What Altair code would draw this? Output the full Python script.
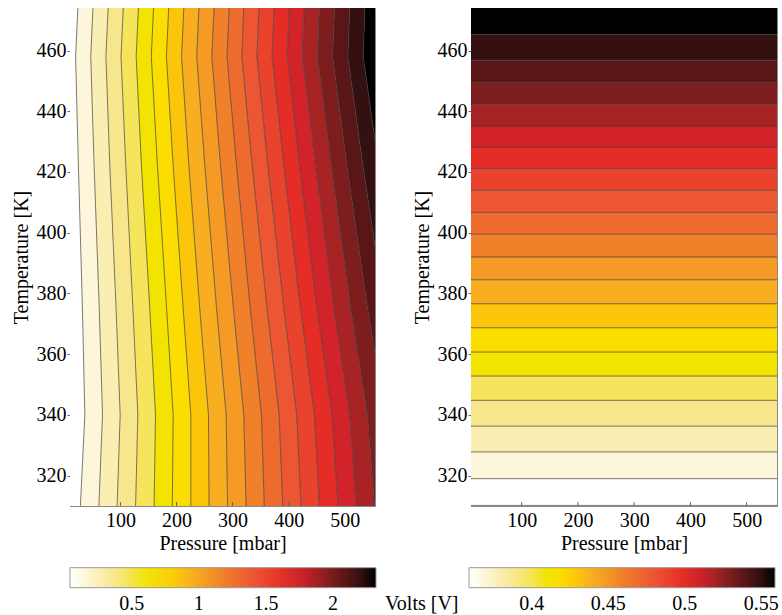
import altair as alt
import pandas as pd

FONT = "Liberation Serif"

# ---------------- data ----------------
P_range = [10, 554]          # pressure axis extent [mbar]
T_range = [310, 474]         # temperature axis extent [K]
x_ticks = [100, 200, 300, 400, 500]
y_ticks = [320, 340, 360, 380, 400, 420, 440, 460]

# Left panel: pressure where each of the 20 contour lines crosses a given temperature
left_T_rows = [474, 458, 422, 376, 340, 310]
left_P_474 = [24, 51, 78, 105, 132, 159, 186, 213, 240, 267, 294, 320, 347, 374, 401, 428, 455, 482, 509, 536]
left_P_458 = [20, 47, 74, 101, 128, 155, 182, 209, 236, 263, 290, 316.5, 343.5, 370.5, 397.5, 424.5, 451.5, 478.5, 505.5, 533]
left_P_422 = [25, 53, 81, 109.5, 137.5, 166, 194, 222, 250.5, 278.5, 307, 335, 363, 391.5, 419.5, 448, 476, 504, 532.5, 560.5]
left_P_376 = [32, 62, 92, 122, 152, 182, 211.5, 241, 271, 301, 331, 361, 391, 420.5, 450, 480, 510, 540, 570, 600]
left_P_340 = [36.5, 68, 99.5, 131, 162.5, 194, 225.5, 257, 288.5, 320, 351.5, 383, 414.5, 446, 477.5, 509, 540.5, 572, 603.5, 635]
left_P_310 = [28.5, 61.5, 94, 127, 160, 192.5, 225.5, 258, 291, 324, 356.5, 389.5, 422, 455, 488, 520.5, 553.5, 586, 619, 652]
left_band_V = [0.04, 0.154, 0.268, 0.382, 0.496, 0.61, 0.724, 0.838, 0.952, 1.066, 1.18,
               1.294, 1.408, 1.522, 1.636, 1.75, 1.864, 1.978, 2.092, 2.206, 2.32]
left_cbar_ticks = [0.5, 1, 1.5, 2]

# Right panel: temperature of each (horizontal) contour line
right_level_T = [310.2, 319.0, 327.8, 336.3, 344.8, 352.8, 360.7, 368.7, 376.6, 384.5, 392.0,
                 399.5, 406.7, 414.0, 421.1, 428.2, 435.1, 442.3, 449.4, 456.8, 465.3]
right_band_V = [0.359, 0.369, 0.379, 0.389, 0.399, 0.409, 0.419, 0.429, 0.439, 0.449, 0.459,
                0.469, 0.479, 0.489, 0.499, 0.509, 0.519, 0.529, 0.539, 0.549, 0.559]
right_cbar_ticks = [0.4, 0.45, 0.5, 0.55]

band_colors = ["#ffffff", "#fef6da", "#fbeeb2", "#f8e68c", "#f5e45c", "#f2e400",
               "#fcdd00", "#fbc60a", "#f8ae20", "#f49a25", "#f0802a", "#ee6b2e",
               "#ec5632", "#e9432e", "#e52d27", "#d2222a", "#a82324", "#7e1d1d",
               "#5a1517", "#341010", "#000000"]

# ---------------- tables ----------------
left_rows = {474: left_P_474, 458: left_P_458, 422: left_P_422,
             376: left_P_376, 340: left_P_340, 310: left_P_310}
n_lines = len(left_P_474)
lo_edge, hi_edge = P_range[0] - 60, P_range[1] + 200

lines_l = []
bands_l = []
for T in left_T_rows:
    row = left_rows[T]
    for k, p in enumerate(row):
        lines_l.append({"line": k, "T": T, "P": p})
    for b in range(n_lines + 1):
        pl = lo_edge if b == 0 else row[b - 1]
        pr = hi_edge if b == n_lines else row[b]
        bands_l.append({"band": b, "V": left_band_V[b], "T": T, "P": pl, "P2": pr})
lines_l = pd.DataFrame(lines_l)
bands_l = pd.DataFrame(bands_l)

lines_r = []
bands_r = []
nr = len(right_level_T)
for k, t in enumerate(right_level_T):
    for p in P_range:
        lines_r.append({"line": k, "T": t, "P": p})
for b in range(nr):
    tlo = T_range[0] - 10 if b == 0 else right_level_T[b]
    thi = right_level_T[b + 1] if b + 1 < nr else T_range[1] + 10
    for p in [P_range[0] - 60, P_range[1] + 60]:
        bands_r.append({"band": b, "V": right_band_V[b], "P": p, "T": tlo, "T2": thi})
lines_r = pd.DataFrame(lines_r)
bands_r = pd.DataFrame(bands_r)
ticks_df = pd.DataFrame({"P": x_ticks})

# ---------------- chart ----------------
H = 498
xs = alt.Scale(domain=P_range, nice=False, zero=False)
ys = alt.Scale(domain=T_range, nice=False, zero=False)

x_axis = alt.Axis(values=x_ticks, title="Pressure [mbar]", ticks=False, tickSize=0,
                  labelPadding=4, titlePadding=3)
y_axis = alt.Axis(values=y_ticks, title="Temperature [K]", tickSize=3, labelPadding=1,
                  titlePadding=5, tickColor="#666")


def X(field, **kw):
    return alt.X(field, scale=xs, axis=x_axis, title="Pressure [mbar]", **kw)


def Y(field, **kw):
    return alt.Y(field, scale=ys, axis=y_axis, title="Temperature [K]", **kw)


def legend(ticks, **kw):
    return alt.Legend(orient="none", legendY=559.7, direction="horizontal",
                      gradientLength=306, gradientThickness=20, values=ticks, format="~g",
                      labelFont=FONT, labelFontSize=20, labelColor="black", labelOffset=6,
                      gradientStrokeColor="#999", gradientStrokeWidth=1, **kw)


def inner_ticks():
    return alt.Chart(ticks_df).mark_rule(color="#666", strokeWidth=1).encode(
        x=X("P:Q"),
        y=alt.value(H), y2=alt.value(H - 4))


left_fill = alt.Chart(bands_l).mark_area(orient="horizontal", clip=True, strokeWidth=0).encode(
    y=Y("T:Q"),
    x=X("P:Q", stack=None),
    x2="P2:Q",
    color=alt.Color("V:Q", title=None,
                    scale=alt.Scale(domain=left_band_V, range=band_colors, interpolate="rgb"),
                    legend=legend(left_cbar_ticks, legendX=0)),
    detail="band:N",
)
left_lines = alt.Chart(lines_l).mark_line(clip=True, color="#3a3a3a", strokeWidth=0.8, opacity=0.85).encode(
    x=X("P:Q"),
    y=Y("T:Q"),
    detail="line:N",
    order="T:Q",
)
left = alt.layer(left_fill, left_lines, inner_ticks()).properties(width=305, height=H)

right_fill = alt.Chart(bands_r).mark_area(clip=True, strokeWidth=0).encode(
    x=X("P:Q"),
    y=Y("T:Q", stack=None),
    y2="T2:Q",
    color=alt.Color("V:Q", title="Volts [V]",
                    scale=alt.Scale(domain=right_band_V, range=band_colors, interpolate="rgb"),
                    legend=legend(right_cbar_ticks, legendX=-86, titleOrient="left",
                                  titleFont=FONT, titleFontSize=20, titleFontWeight="normal",
                                  titleColor="black", titlePadding=10, titleAnchor="end",
                                  titleBaseline="line-top", titleLineHeight=30)),
    detail="band:N",
)
right_lines = alt.Chart(lines_r).mark_line(clip=True, color="#3a3a3a", strokeWidth=0.8, opacity=0.85).encode(
    x=X("P:Q"),
    y=Y("T:Q"),
    detail="line:N",
)
right = alt.layer(right_fill, right_lines, inner_ticks()).properties(width=306, height=H)

chart = alt.hconcat(left, right, spacing=96, bounds="flush").resolve_scale(
    color="independent"
).properties(
    padding={"left": 10, "top": 7, "right": 0, "bottom": 0},
    background="white",
).configure_view(
    stroke="#888", strokeWidth=1
).configure_axis(
    labelFont=FONT, labelFontSize=20, labelColor="black",
    titleFont=FONT, titleFontSize=20, titleFontWeight="normal", titleColor="black",
    domainColor="#888", grid=False,
)

chart.save("out.html", embed_options={"renderer": "svg", "actions": False})
